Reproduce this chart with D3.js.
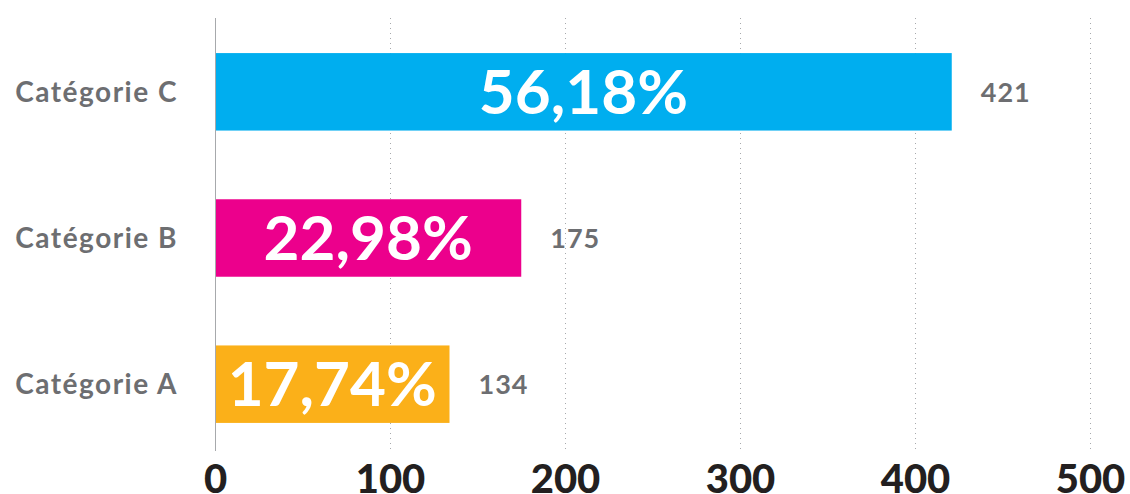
<!DOCTYPE html>
<html>
<head>
<meta charset="utf-8">
<script src="https://cdn.jsdelivr.net/npm/d3@7"></script>
<style>
  body { margin: 0; background: #fff; }
  svg { display: block; font-family: Lato, "Open Sans", sans-serif; }
</style>
</head>
<body>
<svg id="chart" width="1130" height="494"></svg>
<script>
// chart values
var categories = ['Catégorie A', 'Catégorie B', 'Catégorie C'];
var counts = [134, 175, 421];
var shares = ['17,74%', '22,98%', '56,18%'];
var colors = ['#fbb019', '#ec008c', '#00aeef'];
var ticks = [0, 100, 200, 300, 400, 500];

var svg = d3.select('#chart');

var x = d3.scaleLinear().domain([0, 500]).range([215, 1090]);
var y = d3.scaleBand()
  .domain(categories.slice().reverse())
  .range([18, 458])
  .paddingInner(0.47)
  .paddingOuter(0.24);

var rows = categories.map(function(c, i) {
  return { cat: c, value: counts[i], share: shares[i], color: colors[i] };
});

// dotted grid
svg.append('g').selectAll('line')
  .data(ticks.slice(1))
  .enter()
  .append('line')
  .attr('x1', function(d) { return x(d) + 0.5; })
  .attr('x2', function(d) { return x(d) + 0.5; })
  .attr('y1', 18)
  .attr('y2', 451)
  .attr('stroke', '#a7a9ac')
  .attr('stroke-width', 1)
  .attr('stroke-dasharray', '1,4');

// bars
svg.append('g').selectAll('rect')
  .data(rows)
  .enter()
  .append('rect')
  .attr('x', x(0))
  .attr('y', function(d) { return y(d.cat); })
  .attr('width', function(d) { return x(d.value) - x(0); })
  .attr('height', y.bandwidth())
  .attr('fill', function(d) { return d.color; });

// zero line
svg.append('line')
  .attr('x1', x(0) + 0.5)
  .attr('x2', x(0) + 0.5)
  .attr('y1', 18)
  .attr('y2', 451)
  .attr('stroke', '#a7a9ac')
  .attr('stroke-width', 1);

// percentage inside bars
svg.append('g').selectAll('text')
  .data(rows)
  .enter()
  .append('text')
  .attr('x', function(d) { return (x(0) + x(d.value)) / 2; })
  .attr('y', function(d) { return y(d.cat) + y.bandwidth() / 2; })
  .attr('dy', '0.36em')
  .attr('text-anchor', 'middle')
  .style('fill', '#fff')
  .style('font-weight', '700')
  .style('font-size', '62px')
  .text(function(d) { return d.share; });

// counts after bars
svg.append('g').selectAll('text')
  .data(rows)
  .enter()
  .append('text')
  .attr('x', function(d) { return x(d.value) + 29; })
  .attr('y', function(d) { return y(d.cat) + y.bandwidth() / 2; })
  .attr('dy', '0.36em')
  .style('fill', '#6d6e71')
  .style('font-weight', '700')
  .style('font-size', '27px')
  .style('letter-spacing', '1px')
  .text(function(d) { return d.value; });

// category labels
svg.append('g').selectAll('text')
  .data(rows)
  .enter()
  .append('text')
  .attr('x', 178)
  .attr('y', function(d) { return y(d.cat) + y.bandwidth() / 2; })
  .attr('dy', '0.36em')
  .attr('text-anchor', 'end')
  .style('fill', '#6d6e71')
  .style('font-weight', '700')
  .style('font-size', '28px')
  .style('letter-spacing', '1.5px')
  .text(function(d) { return d.cat; });

// x axis labels
var xAxis = d3.axisBottom(x).tickValues(ticks).tickSize(0).tickPadding(0);
var axisG = svg.append('g')
  .attr('transform', 'translate(0,464)')
  .call(xAxis);
axisG.select('.domain').remove();
axisG.selectAll('text')
  .attr('dy', '0.72em')
  .style('fill', '#231f20')
  .style('font-family', 'Lato, sans-serif')
  .style('font-weight', '900')
  .style('font-size', '40px');
</script>
</body>
</html>
